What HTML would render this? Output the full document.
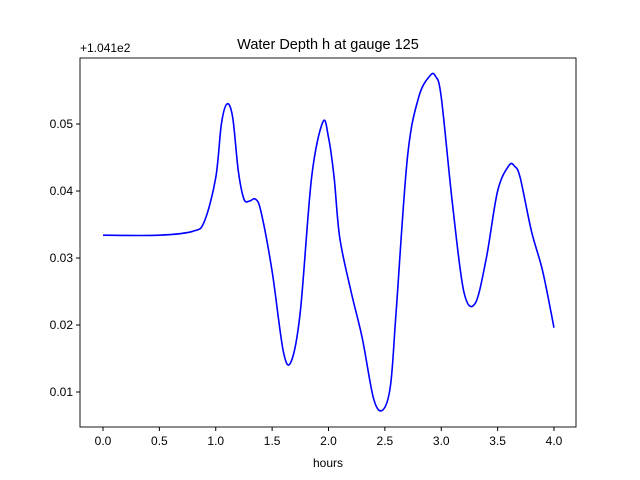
<!DOCTYPE html>
<html><head><meta charset="utf-8"><style>
body{margin:0;background:#fff;}
svg{display:block;font-family:"Liberation Sans","DejaVu Sans",sans-serif;}
</style></head><body>
<svg id="chart" width="640" height="480">
<rect width="640" height="480" fill="#fff"/>
<text x="328" y="49" font-size="14.5" text-anchor="middle">Water Depth h at gauge 125</text>
<text x="80" y="52" font-size="12">+1.041e2</text>
<text x="328" y="467" font-size="12" text-anchor="middle">hours</text>
<g id="xticks"></g>
<g id="yticks"></g>
<path id="line" fill="none" stroke="#0000ff" stroke-width="1.6"/>
<rect x="80" y="58" width="496" height="369" fill="none" stroke="#000" stroke-width="0.9"/>
</svg>
<script>
const hours=[0,0.5,0.8,0.9,1.0,1.05,1.1,1.15,1.2,1.25,1.3,1.35,1.4,1.5,1.6,1.67,1.75,1.85,1.95,2.0,2.05,2.1,2.2,2.3,2.4,2.48,2.55,2.6,2.7,2.8,2.9,2.95,3.0,3.1,3.2,3.3,3.4,3.5,3.6,3.65,3.7,3.8,3.9,4.0];
const depth=[0.0334,0.0334,0.0340,0.0355,0.042,0.050,0.053,0.051,0.043,0.0388,0.0385,0.0388,0.037,0.028,0.016,0.0146,0.022,0.042,0.0503,0.048,0.042,0.033,0.025,0.018,0.009,0.0073,0.011,0.022,0.045,0.054,0.0572,0.0571,0.054,0.038,0.025,0.0232,0.030,0.040,0.0438,0.0437,0.042,0.034,0.028,0.0196];
const xTicks=[0,0.5,1.0,1.5,2.0,2.5,3.0,3.5,4.0];
const yTicks=[0.01,0.02,0.03,0.04,0.05];
const X=v=>103+v*112.75, Y=v=>392-(v-0.01)*6700;
const ns="http://www.w3.org/2000/svg";
function mk(t,a,p){const e=document.createElementNS(ns,t);for(const k in a)e.setAttribute(k,a[k]);p.appendChild(e);return e;}
const xg=document.getElementById('xticks'),yg=document.getElementById('yticks');
xTicks.forEach(t=>{const g=mk('g',{},xg);


mk('line',{x1:X(t),x2:X(t),y1:427,y2:431,stroke:'#000'},g);
const tx=mk('text',{x:X(t),y:445,'font-size':12,'text-anchor':'middle'},g);tx.textContent=t.toFixed(1);});
yTicks.forEach(t=>{const g=mk('g',{},yg);


mk('line',{x1:76,x2:80,y1:Y(t),y2:Y(t),stroke:'#000'},g);
const tx=mk('text',{x:73,y:Y(t)+4,'font-size':12,'text-anchor':'end'},g);tx.textContent=t.toFixed(2);});
const P=hours.map((h,i)=>[X(h),Y(depth[i])]);
let d='M'+P[0][0]+','+P[0][1];
for(let i=0;i<P.length-1;i++){const p0=P[Math.max(0,i-1)],p1=P[i],p2=P[i+1],p3=P[Math.min(P.length-1,i+2)];
const c1=[p1[0]+(p2[0]-p0[0])/6,p1[1]+(p2[1]-p0[1])/6],c2=[p2[0]-(p3[0]-p1[0])/6,p2[1]-(p3[1]-p1[1])/6];
d+=` C${c1[0]},${c1[1]} ${c2[0]},${c2[1]} ${p2[0]},${p2[1]}`;}
document.getElementById('line').setAttribute('d',d);
</script>
</body></html>
